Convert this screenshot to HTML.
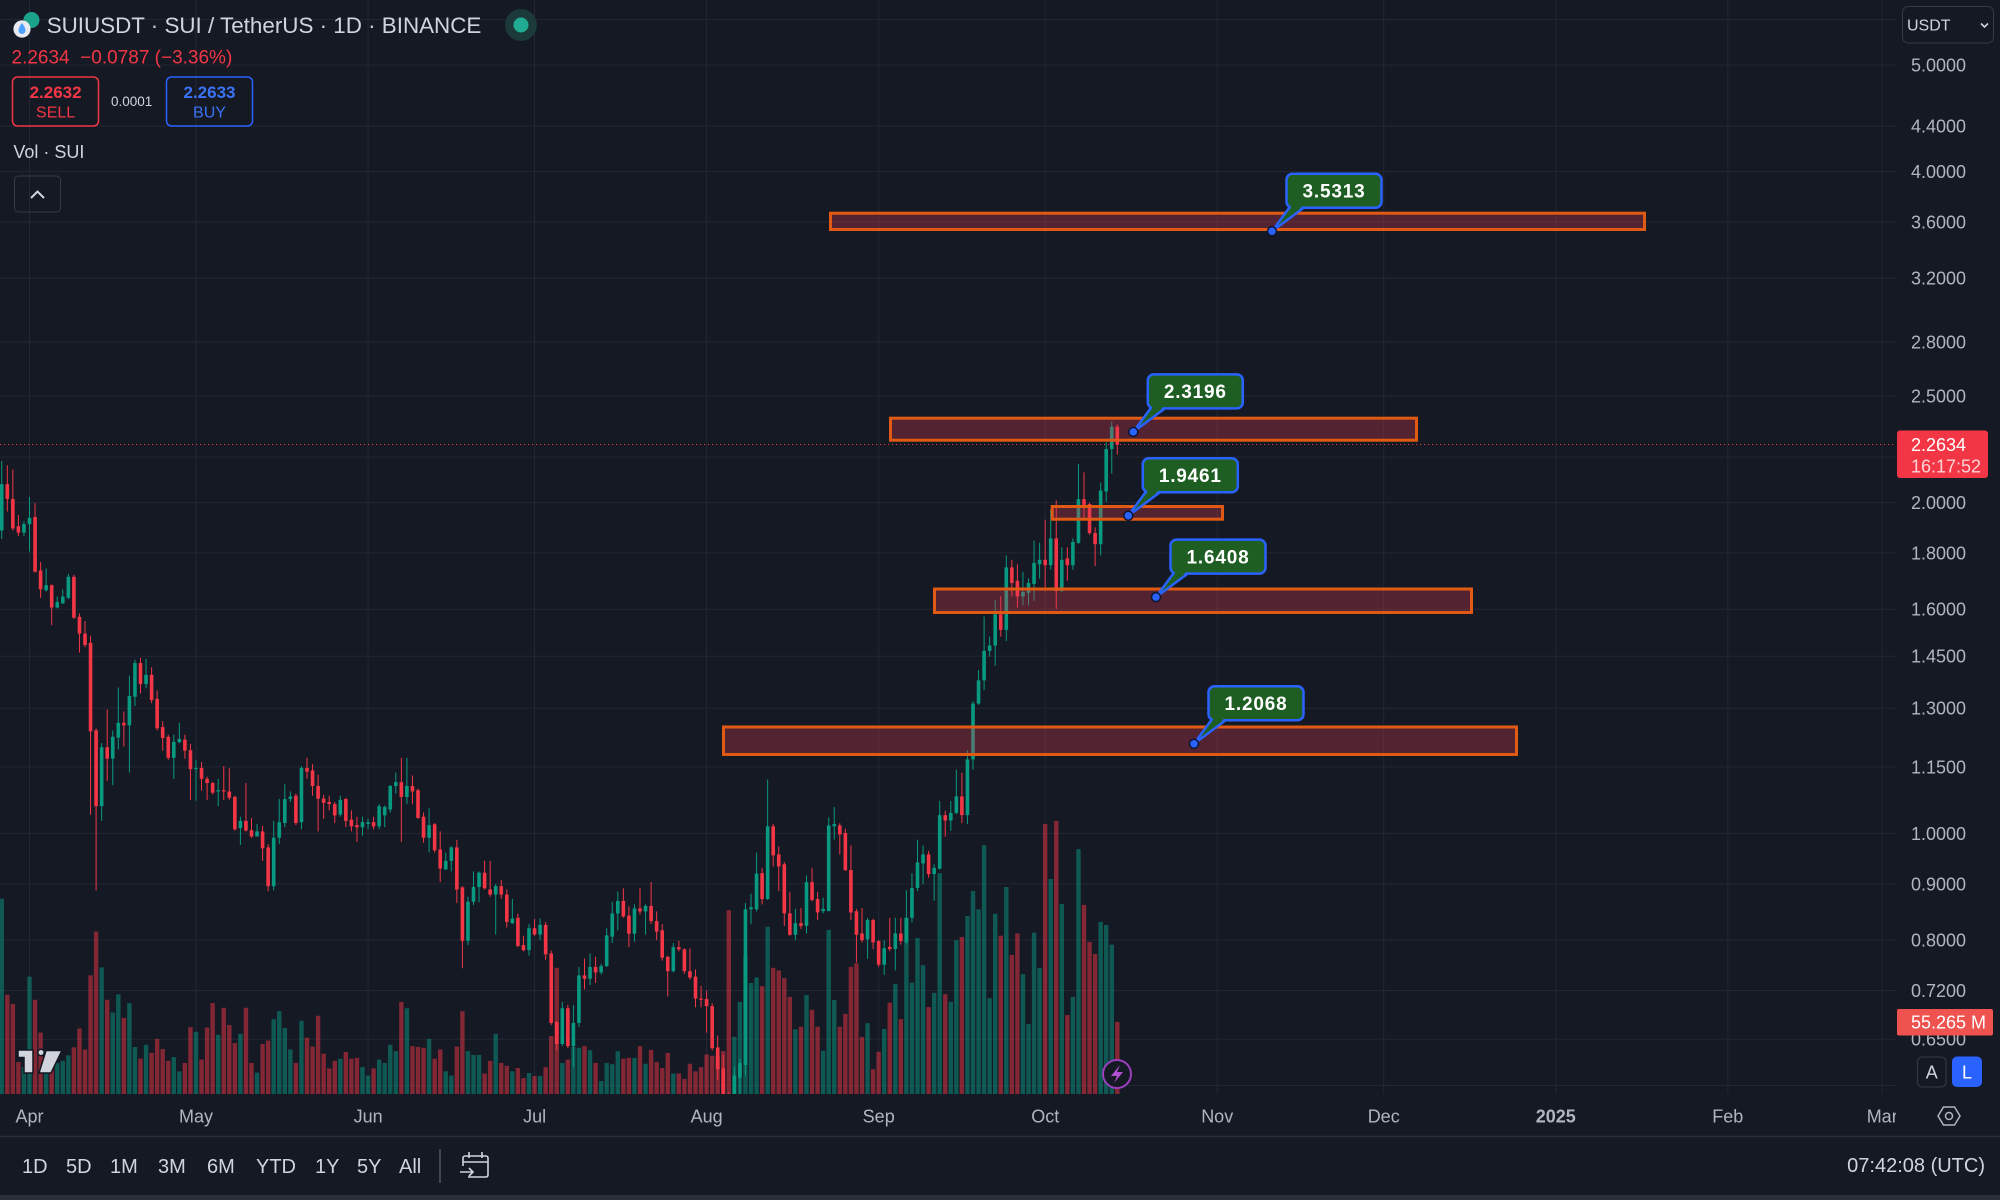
<!DOCTYPE html>
<html><head><meta charset="utf-8">
<style>
html,body{margin:0;padding:0;background:#151924;width:2000px;height:1200px;overflow:hidden;}
svg{position:absolute;left:0;top:0;font-family:"Liberation Sans",Arial,sans-serif;}
</style></head>
<body>
<svg id="s" width="2000" height="1200" viewBox="0 0 2000 1200" xmlns="http://www.w3.org/2000/svg">
<defs>
<clipPath id="cp"><rect x="0" y="0" width="1896" height="1094"/></clipPath>
<clipPath id="tp"><rect x="0" y="1094" width="1896" height="42"/></clipPath>
</defs>
<rect x="0" y="0" width="2000" height="1200" fill="#151924"/>
<!-- grid -->
<g stroke="#232733" stroke-width="1">
<line x1="0" x2="1896" y1="19.6" y2="19.6"/><line x1="0" x2="1896" y1="65.1" y2="65.1"/>
<line x1="0" x2="1896" y1="126.1" y2="126.1"/><line x1="0" x2="1896" y1="171.6" y2="171.6"/>
<line x1="0" x2="1896" y1="222" y2="222"/><line x1="0" x2="1896" y1="278.2" y2="278.2"/>
<line x1="0" x2="1896" y1="342" y2="342"/><line x1="0" x2="1896" y1="396.1" y2="396.1"/>
<line x1="0" x2="1896" y1="457.1" y2="457.1"/><line x1="0" x2="1896" y1="502.6" y2="502.6"/>
<line x1="0" x2="1896" y1="552.9" y2="552.9"/><line x1="0" x2="1896" y1="609.2" y2="609.2"/>
<line x1="0" x2="1896" y1="656.2" y2="656.2"/><line x1="0" x2="1896" y1="708.3" y2="708.3"/>
<line x1="0" x2="1896" y1="766.9" y2="766.9"/><line x1="0" x2="1896" y1="833.6" y2="833.6"/>
<line x1="0" x2="1896" y1="883.9" y2="883.9"/><line x1="0" x2="1896" y1="940.1" y2="940.1"/>
<line x1="0" x2="1896" y1="990.5" y2="990.5"/><line x1="0" x2="1896" y1="1039.3" y2="1039.3"/>
<line x1="0" x2="1896" y1="1085.5" y2="1085.5"/>
<line x1="29.5" x2="29.5" y1="0" y2="1094"/><line x1="196" x2="196" y1="0" y2="1094"/>
<line x1="368.1" x2="368.1" y1="0" y2="1094"/><line x1="534.6" x2="534.6" y1="0" y2="1094"/>
<line x1="706.6" x2="706.6" y1="0" y2="1094"/><line x1="878.7" x2="878.7" y1="0" y2="1094"/>
<line x1="1045.2" x2="1045.2" y1="0" y2="1094"/><line x1="1217.2" x2="1217.2" y1="0" y2="1094"/>
<line x1="1383.7" x2="1383.7" y1="0" y2="1094"/><line x1="1555.8" x2="1555.8" y1="0" y2="1094"/>
<line x1="1727.8" x2="1727.8" y1="0" y2="1094"/><line x1="1882.2" x2="1882.2" y1="0" y2="1094"/>
</g>
<g clip-path="url(#cp)"><g id="vol"></g><g id="cdl"></g>
<!-- zones -->
<g fill="rgba(230,60,80,0.3)" stroke="#e05a14" stroke-width="3">
<rect x="830.5" y="213.2" width="814" height="16.3"/>
<rect x="890.5" y="418.2" width="526" height="22"/>
<rect x="1052.2" y="506.5" width="170.3" height="12.7"/>
<rect x="934.5" y="589" width="537" height="23.5"/>
<rect x="723.5" y="727" width="793" height="27.5"/>
</g>
<line x1="0" x2="1896" y1="444.5" y2="444.5" stroke="#f23645" stroke-width="1" stroke-dasharray="1 3"/>
<!-- callouts -->
<g stroke="#2962ff" stroke-width="2.5" stroke-linejoin="round" fill="#1e5e22">
<polygon points="1290,206.7 1305,206.7 1272,231.2"/>
<rect x="1286.5" y="173.7" width="95" height="34" rx="6"/>
<polygon points="1151.3,407.4 1166.3,407.4 1133.3,431.9"/>
<rect x="1147.8" y="374.4" width="95" height="34" rx="6"/>
<polygon points="1146.3,491.2 1161.3,491.2 1128.3,515.7"/>
<rect x="1142.8" y="458.2" width="95" height="34" rx="6"/>
<polygon points="1174,572.6 1189,572.6 1156,597.1"/>
<rect x="1170.5" y="539.6" width="95" height="34" rx="6"/>
<polygon points="1212,719.3 1227,719.3 1194,743.8"/>
<rect x="1208.5" y="686.3" width="95" height="34" rx="6"/>
</g>
<g fill="#1e5e22">
<polygon points="1291.5,205.2 1302.5,205.2 1298.5,210.2 1290,210.2"/>
<polygon points="1152.8,405.9 1163.8,405.9 1159.8,410.9 1151.3,410.9"/>
<polygon points="1147.8,489.7 1158.8,489.7 1154.8,494.7 1146.3,494.7"/>
<polygon points="1175.5,571.1 1186.5,571.1 1182.5,576.1 1174,576.1"/>
<polygon points="1213.5,717.8 1224.5,717.8 1220.5,722.8 1212,722.8"/>
</g>
<g fill="#2962ff" stroke="#0d1530" stroke-width="1.5">
<circle cx="1272" cy="231.2" r="4.5"/><circle cx="1133.3" cy="431.9" r="4.5"/>
<circle cx="1128.3" cy="515.7" r="4.5"/><circle cx="1156" cy="597.1" r="4.5"/>
<circle cx="1194" cy="743.8" r="4.5"/>
</g>
<g fill="#ffffff" font-size="19" font-weight="bold" text-anchor="middle" letter-spacing="0.8">
<text x="1334" y="197.5">3.5313</text>
<text x="1195.3" y="398.2">2.3196</text>
<text x="1190.3" y="482">1.9461</text>
<text x="1218" y="563.4">1.6408</text>
<text x="1256" y="710.1">1.2068</text>
</g>
<!-- TV logo -->
<g fill="#d1d4dc" stroke="#131722" stroke-width="1.5">
<polygon points="18,1050 33,1050 33,1073 24,1073 24,1057.5 18,1057.5"/>
<circle cx="41" cy="1052.5" r="3.2"/>
<polygon points="46,1050.5 62,1050.5 51,1073 39,1073"/>
</g>
<!-- lightning -->
<circle cx="1117" cy="1074" r="14" fill="#151924" stroke="#9c3fbd" stroke-width="2"/>
<polygon points="1120,1065 1111,1076 1117,1076 1114,1083 1123,1072 1117,1072" fill="#b050d0"/>
</g>
<!-- header -->
<circle cx="31.5" cy="20" r="8" fill="#1aa38a"/>
<circle cx="22" cy="29" r="8.6" fill="#e8eaf0"/>
<path d="M22,23 C19,27 18.5,29 18.5,30.5 A3.5,3.5 0 0 0 25.5,30.5 C25.5,29 25,27 22,23 Z" fill="#4da2ff"/>
<text x="46.7" y="32.9" font-size="22.4" fill="#d1d4dc">SUIUSDT · SUI / TetherUS · 1D · BINANCE</text>
<circle cx="521" cy="25" r="16" fill="#1c3a39"/>
<circle cx="521" cy="25" r="7.5" fill="#22ab94"/>
<text x="11.5" y="63.3" font-size="19" fill="#f23645" xml:space="preserve">2.2634  −0.0787 (−3.36%)</text>
<rect x="12.5" y="77" width="86" height="49" rx="5" fill="none" stroke="#f23645" stroke-width="1.5"/>
<text x="55.6" y="98.1" font-size="17" font-weight="bold" fill="#f23645" text-anchor="middle">2.2632</text>
<text x="55.6" y="117.5" font-size="16" fill="#f23645" text-anchor="middle">SELL</text>
<text x="111" y="105.8" font-size="13.5" fill="#d1d4dc">0.0001</text>
<rect x="166.5" y="77" width="86" height="49" rx="5" fill="none" stroke="#2962ff" stroke-width="1.5"/>
<text x="209.5" y="98.1" font-size="17" font-weight="bold" fill="#3b72f6" text-anchor="middle">2.2633</text>
<text x="209.5" y="117.5" font-size="16" fill="#3b72f6" text-anchor="middle">BUY</text>
<text x="13.4" y="158" font-size="18" fill="#d1d4dc">Vol · SUI</text>
<rect x="14.5" y="176" width="46" height="36" rx="4" fill="none" stroke="#363a45" stroke-width="1"/>
<polyline points="31,198 37.5,191.5 44,198" fill="none" stroke="#d1d4dc" stroke-width="2"/>
<!-- price axis -->
<g font-size="18" fill="#b2b5be">
<text x="1911" y="71.5">5.0000</text><text x="1911" y="132.5">4.4000</text>
<text x="1911" y="178">4.0000</text><text x="1911" y="228.4">3.6000</text>
<text x="1911" y="284.6">3.2000</text><text x="1911" y="348.4">2.8000</text>
<text x="1911" y="402.5">2.5000</text><text x="1911" y="509">2.0000</text>
<text x="1911" y="559.3">1.8000</text><text x="1911" y="615.6">1.6000</text>
<text x="1911" y="662.6">1.4500</text><text x="1911" y="714.7">1.3000</text>
<text x="1911" y="773.3">1.1500</text><text x="1911" y="840">1.0000</text>
<text x="1911" y="890.3">0.9000</text><text x="1911" y="946.5">0.8000</text>
<text x="1911" y="996.9">0.7200</text><text x="1911" y="1045.7">0.6500</text>
</g>
<rect x="1902.5" y="6.5" width="91" height="36.5" rx="6" fill="#151924" stroke="#363a45" stroke-width="1"/>
<text x="1907" y="30.7" font-size="16" fill="#d1d4dc">USDT</text>
<polyline points="1981,23.5 1984.5,27 1988,23.5" fill="none" stroke="#d1d4dc" stroke-width="1.6"/>
<rect x="1897" y="430.5" width="91" height="47.5" rx="3" fill="#f23645"/>
<text x="1911" y="450.9" font-size="18" fill="#ffffff">2.2634</text>
<text x="1911" y="472.4" font-size="18" fill="#fcd3d6">16:17:52</text>
<rect x="1897" y="1009" width="96" height="26.5" rx="2" fill="#ef5350"/>
<text x="1911" y="1028.4" font-size="18" fill="#ffffff">55.265 M</text>
<rect x="1917.5" y="1057" width="28.5" height="30" rx="5" fill="none" stroke="#363a45" stroke-width="1"/>
<text x="1931.7" y="1078.4" font-size="18" fill="#d1d4dc" text-anchor="middle">A</text>
<rect x="1952" y="1056.5" width="30" height="30.5" rx="5" fill="#2962ff"/>
<text x="1967" y="1078.4" font-size="18" fill="#ffffff" text-anchor="middle">L</text>
<polygon points="1938,1116 1943.5,1107 1954.5,1107 1960,1116 1954.5,1125 1943.5,1125" fill="none" stroke="#b2b5be" stroke-width="1.5"/>
<circle cx="1949" cy="1116" r="3.5" fill="none" stroke="#b2b5be" stroke-width="1.5"/>
<!-- time axis -->
<g font-size="18" fill="#b2b5be" text-anchor="middle" clip-path="url(#tp)">
<text x="29.5" y="1122.4">Apr</text><text x="196" y="1122.4">May</text>
<text x="368.1" y="1122.4">Jun</text><text x="534.6" y="1122.4">Jul</text>
<text x="706.6" y="1122.4">Aug</text><text x="878.7" y="1122.4">Sep</text>
<text x="1045.2" y="1122.4">Oct</text><text x="1217.2" y="1122.4">Nov</text>
<text x="1383.7" y="1122.4">Dec</text><text x="1555.8" y="1122.4" font-weight="bold">2025</text>
<text x="1727.8" y="1122.4">Feb</text><text x="1882.2" y="1122.4">Mar</text>
</g>
<!-- bottom toolbar -->
<line x1="0" x2="2000" y1="1136.5" y2="1136.5" stroke="#2a2e39" stroke-width="1.5"/>
<g font-size="20" fill="#d1d4dc">
<text x="22" y="1173.2">1D</text><text x="66" y="1173.2">5D</text><text x="110" y="1173.2">1M</text>
<text x="158" y="1173.2">3M</text><text x="207" y="1173.2">6M</text><text x="256" y="1173.2">YTD</text>
<text x="315" y="1173.2">1Y</text><text x="357" y="1173.2">5Y</text><text x="399" y="1173.2">All</text>
<text x="1985" y="1172.2" text-anchor="end">07:42:08 (UTC)</text>
</g>
<line x1="440" x2="440" y1="1149" y2="1183" stroke="#434651" stroke-width="2"/>
<g fill="none" stroke="#d1d4dc" stroke-width="1.6">
<path d="M468,1177 H486 a2,2 0 0 0 2,-2 V1158 a2,2 0 0 0 -2,-2 H465 a2,2 0 0 0 -2,2 V1166"/>
<line x1="463" x2="488" y1="1162" y2="1162"/>
<line x1="469" x2="469" y1="1152" y2="1158"/><line x1="482" x2="482" y1="1152" y2="1158"/>
<path d="M460,1172 H473 M469,1168 L473,1172 L469,1176"/>
</g>
<rect x="0" y="1195" width="2000" height="5" fill="#2a2e39"/>
</svg>
<script>
var A=[[105,215,50,235,1,1090],[105,140,60,170,0,1318],[140,210,70,215,0,1340],[205,220,178,228,0,1478],[200,220,193,228,1,1490],[185,200,135,265,1,1275],[183,313,150,315,0,1330],[310,355,290,375,0,1408],[345,357,305,360,1,1450],[345,398,343,440,0,1490],[385,398,372,400,1,1480],[372,388,355,390,1,1475],[325,375,318,378,1,1462],[325,422,320,425,0,1443],[420,460,412,505,0,1398],[460,487,430,492,0,1448],[482,692,465,890,0,1272],[690,870,685,1070,0,1168],[730,870,720,905,1,1253],[730,757,640,810,0,1330],[705,757,690,820,1,1360],[672,707,588,735,1,1317],[672,678,645,728,0,1373],[608,678,560,790,1,1338],[530,610,522,632,1,1442],[530,580,518,602,0,1470],[558,580,520,590,1,1437],[558,618,540,625,0,1456],[615,685,595,690,0,1423],[682,708,668,738,0,1447],[705,755,700,760,0,1475],[717,755,700,805,1,1466],[710,718,672,720,1,1500],[712,738,700,757,0,1480],[737,782,722,855,0,1395],[779,782,760,857,1,1406],[779,805,765,833,0,1472],[805,815,800,855,0,1396],[815,838,812,842,0,1338],[832,835,805,870,1,1413],[832,835,775,855,0,1349],[835,850,780,855,0,1390],[848,925,845,928,0,1433],[905,922,895,962,1,1411],[905,928,815,930,0,1349],[927,942,898,945,0,1480],[930,942,912,942,1,1503],[930,970,917,1000,0,1435],[968,1060,960,1072,0,1427],[945,1060,905,1070,1,1376],[908,945,853,960,1,1357],[853,910,818,920,1,1397],[847,853,835,860,1,1448],[845,910,840,915,0,1480],[779,908,775,925,1,1380],[779,788,755,805,0,1420],[785,822,770,845,0,1441],[822,852,795,930,0,1368],[852,862,843,900,0,1458],[860,865,845,880,0,1493],[865,892,860,910,0,1475],[855,890,845,895,1,1470],[853,905,850,920,0,1454],[902,918,880,930,0,1470],[915,920,895,955,0,1468],[908,920,895,940,1,1490],[908,912,900,925,1,1510],[908,918,895,925,0,1493],[870,918,865,925,1,1472]];
var B=[[872,892,868,920,1,1480],[822,878,820,885,1,1437],[813,822,790,840,1,1452],[813,848,755,955,0,1335],[822,848,755,865,1,1350],[822,835,797,865,0,1440],[832,898,828,900,0,1442],[895,945,885,957,0,1444],[915,945,875,980,1,1423],[913,975,910,980,0,1470],[973,1018,930,1050,0,1448],[1000,1020,980,1022,1,1500],[968,1000,965,1025,1,1510],[968,1068,950,1100,0,1441],[1063,1190,1060,1255,0,1357],[1097,1190,1085,1200,1,1452],[1062,1097,1025,1105,1,1461],[1028,1062,1025,1098,1,1461],[1028,1065,1000,1068,0,1505],[1068,1080,1000,1085,0,1475],[1060,1080,1055,1175,1,1411],[1060,1080,1045,1090,0,1480],[1080,1145,1068,1158,0,1487],[1137,1148,1090,1150,1,1500],[1135,1202,1125,1205,0,1492],[1200,1212,1178,1215,0,1516],[1160,1212,1150,1225,1,1504],[1160,1175,1138,1178,0,1511],[1152,1175,1137,1188,1,1511],[1152,1222,1145,1235,0,1490],[1220,1385,1213,1390,0,1416],[1383,1435,1380,1450,0,1254],[1350,1435,1335,1440,1,1480],[1350,1440,1342,1445,0,1472],[1385,1440,1343,1490,1,1442],[1272,1385,1252,1395,1,1444],[1272,1280,1232,1305,0,1440],[1252,1280,1220,1295,1,1450],[1252,1265,1228,1290,0,1480],[1250,1265,1245,1270,1,1523],[1177,1250,1160,1252,1,1480],[1125,1180,1097,1195,1,1483],[1095,1125,1073,1165,1,1452],[1095,1132,1065,1135,0,1470],[1130,1173,1108,1205,0,1468],[1113,1173,1103,1192,1,1468],[1113,1120,1065,1128,0,1440],[1107,1120,1103,1175,1,1482],[1107,1143,1050,1150,0,1449],[1143,1168,1120,1188,0,1478],[1165,1230,1150,1237,0,1492],[1228,1262,1225,1322,0,1456],[1205,1262,1195,1265,1,1505],[1205,1210,1190,1215,0,1505],[1210,1262,1208,1268,0,1518],[1262,1277,1208,1282,0,1482],[1275,1327,1258,1348,0,1500],[1327,1330,1297,1348,0,1490],[1328,1345,1308,1408,0,1460],[1345,1445,1338,1450,0,1463],[1443,1495,1415,1520,0,1465],[1493,1560,1460,1600,0,1452],[1570,1620,1550,1900,0,1117],[1510,1590,1490,1620,1,1418],[1480,1515,1470,1560,1,1335],[1115,1485,1100,1510,1,1228],[1110,1115,1078,1150,1,1290],[1030,1115,980,1120,1,1277]];
var C=[[1060,1118,1048,1130,0,1313],[955,1118,850,1120,1,1180],[955,1020,950,1045,0,1272],[1018,1045,1000,1100,0,1278],[1040,1150,1035,1178,0,1295],[1150,1198,1102,1200,0,1337],[1172,1198,1140,1210,1,1410],[1172,1178,1138,1185,0,1404],[1080,1178,1065,1195,1,1333],[1080,1120,1048,1123,0,1366],[1118,1148,1102,1165,0,1404],[1140,1145,1115,1150,1,1458],[953,1145,935,1145,1,1187],[950,955,912,985,1,1344],[953,973,948,1018,0,1404],[970,1053,960,1055,0,1375],[1053,1148,998,1165,0,1270],[1145,1198,1140,1260,0,1262],[1195,1210,1138,1215,0,1427],[1165,1208,1160,1252,1,1396],[1165,1215,1162,1230,0,1499],[1212,1265,1210,1270,0,1460],[1228,1265,1210,1288,1,1409],[1225,1230,1160,1235,0,1350],[1195,1230,1160,1278,1,1308],[1195,1212,1160,1220,0,1387],[1160,1215,1098,1220,1,1160],[1093,1160,1060,1170,1,1305],[1036,1093,985,1100,1,1205],[1018,1038,998,1085,1,1266],[1018,1062,1010,1070,0,1360],[1048,1062,1040,1122,1,1328],[930,1050,898,1052,1,1060],[930,942,920,978,0,1331],[925,942,898,965,1,1348],[888,925,828,928,1,1210],[888,930,835,948,0,1203],[805,930,785,950,1,1156],[680,805,675,828,1,1100],[628,680,605,683,1,1141],[562,628,485,650,1,997],[550,562,530,575,1,1340],[480,550,448,595,1,1151],[480,515,440,530,0,1200],[375,515,348,540,1,1091],[375,410,358,440,0,1243],[405,440,368,465,0,1195],[430,440,385,460,1,1286],[410,432,400,460,1,1398],[365,412,315,450,1,1193],[358,368,320,400,1,1272],[358,370,268,428,0,950],[310,370,245,380,1,1073],[310,428,225,468,0,943],[358,428,330,430,1,1129],[355,370,330,405,0,1378],[318,370,310,380,1,1337],[222,320,143,322,1,1006],[222,235,162,270,0,1131],[233,298,230,302,0,1214],[298,323,285,372,0,1241],[203,323,185,348,1,1169],[110,205,95,228,1,1176],[60,110,48,165,1,1220],[60,100,55,122,0,1393]];
var vs='',cs='';
function X(d){return 29.5+5.55*d;}
function f(n){return n.toFixed(2);}
function seg(arr,d0,y0,s){
  for(var i=0;i<arr.length;i++){
    var r=arr[i],x=X(d0+i);
    var t=y0+r[0]*s,b=y0+r[1]*s,wt=y0+r[2]*s,wb=y0+r[3]*s,v=y0+r[5]*s;
    var col=r[4]?'#089981':'#f23645';
    var vc=r[4]?'rgba(8,153,129,0.5)':'rgba(242,54,69,0.5)';
    vs+='<rect x="'+f(x-2.2)+'" y="'+f(v)+'" width="4.4" height="'+f(Math.max(0,1094-v))+'" fill="'+vc+'"/>';
    cs+='<rect x="'+f(x-0.5)+'" y="'+f(wt)+'" width="1" height="'+f(Math.max(1,wb-wt))+'" fill="'+col+'"/>';
    cs+='<rect x="'+f(x-1.8)+'" y="'+f(t)+'" width="3.6" height="'+f(Math.max(1,b-t))+'" fill="'+col+'"/>';
  }
}
seg(A,-5,440,0.4209);
seg(B,64,440,0.4209);
seg(C,132,400,0.4464);
document.getElementById('vol').innerHTML=vs;
document.getElementById('cdl').innerHTML=cs;
</script>
</body></html>
